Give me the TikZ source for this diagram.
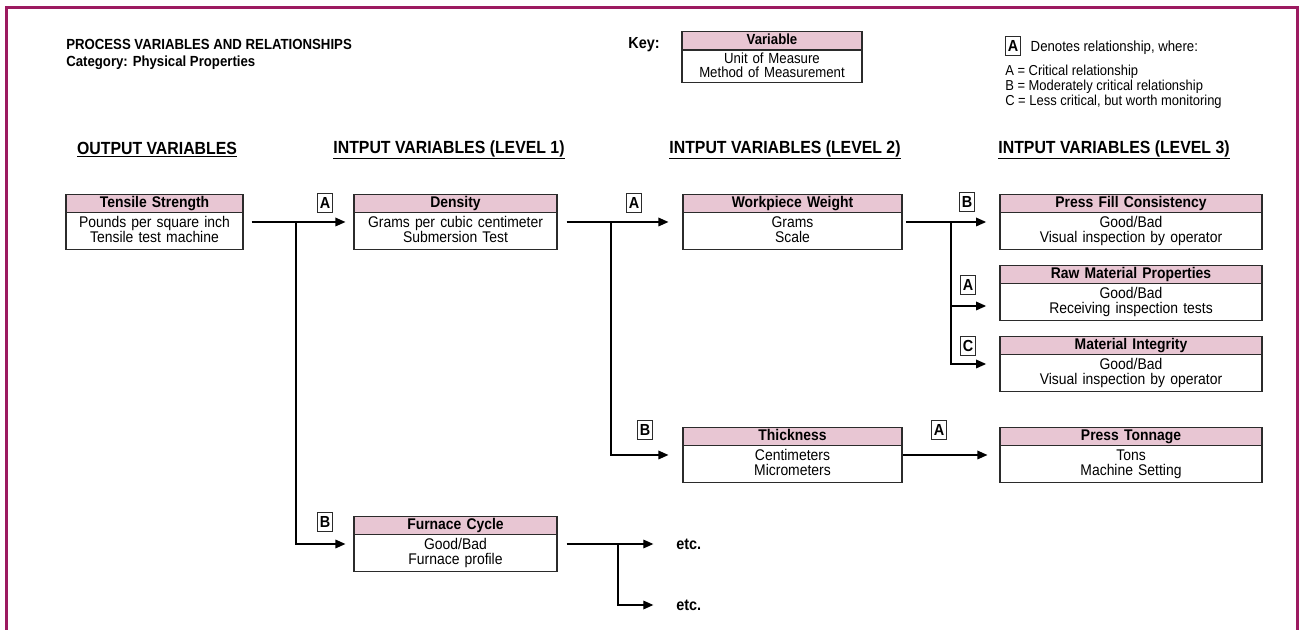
\documentclass[tikz,border=0pt]{standalone}
\usepackage{fontspec}
\setmainfont{Liberation Sans}[FakeStretch=0.9]
\usetikzlibrary{arrows.meta,shapes.multipart}
\definecolor{framemag}{HTML}{9C1A60}
\definecolor{headpink}{HTML}{E8C6D3}
\definecolor{boxline}{HTML}{2B2B2B}
\newcommand{\varhead}[1]{\rule[-3.4pt]{0pt}{12.9pt}\textbf{#1}}
\newcommand{\varbody}[2]{\rule{0pt}{10.4pt}#1\\#2\rule[-5.1pt]{0pt}{5.1pt}}

\begin{document}
\begin{tikzpicture}[x=0.75pt,y=-0.75pt,>={Triangle[length=7.5pt,width=6.5pt]},
  varbox/.style={rectangle split,rectangle split parts=2,draw=boxline,line width=0.9pt,
    rectangle split part fill={headpink,white},inner xsep=0pt,inner ysep=0pt,align=center,
    font=\fontsize{11.6}{11.5}\selectfont},
  rel/.style={draw=boxline,line width=0.7pt,fill=white,inner sep=0pt,minimum width=11pt,
    minimum height=14.5pt,font=\fontsize{12}{12}\selectfont\bfseries},
  colhead/.style={font=\fontsize{13.2}{14}\selectfont\bfseries},
  link/.style={->,line width=0.9pt}]
\useasboundingbox (0,0) rectangle (1299,630);
\draw[framemag,line width=2.25pt] (6,632) -- (6,8) -- (1297,8) -- (1297,632);

\node[anchor=north west,align=left,inner sep=0pt,font=\fontsize{11}{12.75}\selectfont\bfseries] (title) at (66,39)
 {PROCESS VARIABLES AND RELATIONSHIPS\\Category: Physical Properties};
\node[font=\fontsize{12}{12}\selectfont\bfseries] (keylbl) at (644,45) {Key:};
\node[varbox,text width=135pt,font=\fontsize{11}{10.6}\selectfont] (key) at (772,57)
 {\varhead{Variable}\nodepart{two}\rule{0pt}{9.4pt}Unit of Measure\\Method of Measurement\rule[-3.3pt]{0pt}{3.3pt}};
\node[rel] (legA) at (1013,46) {A};
\node[anchor=west,font=\fontsize{11}{12}\selectfont] (legtxt) at (1026,48) {Denotes relationship, where:};
\node[anchor=north west,align=left,inner sep=0pt,font=\fontsize{10.8}{9.9}\selectfont] (leglist) at (1005,65)
 {A = Critical relationship\\B = Moderately critical relationship\\C = Less critical, but worth monitoring};

\node[colhead] (hout) at (157,150) {\underline{OUTPUT VARIABLES}};
\node[colhead] (hin1) at (449,150) {\underline{INTPUT VARIABLES (LEVEL 1)}};
\node[colhead] (hin2) at (785,150) {\underline{INTPUT VARIABLES (LEVEL 2)}};
\node[colhead] (hin3) at (1114,150) {\underline{INTPUT VARIABLES (LEVEL 3)}};

\node[varbox,text width=132.75pt] (tens) at (154.5,222)
 {\varhead{Tensile Strength}\nodepart{two}\varbody{Pounds per square inch}{Tensile test machine}};
\node[varbox,text width=152.25pt] (dens) at (455.5,222)
 {\varhead{Density}\nodepart{two}\varbody{Grams per cubic centimeter}{Submersion Test}};
\node[varbox,text width=152.25pt] (furn) at (455.5,544)
 {\varhead{Furnace Cycle}\nodepart{two}\varbody{Good/Bad}{Furnace profile}};
\node[varbox,text width=164.25pt] (work) at (792.5,222)
 {\varhead{Workpiece Weight}\nodepart{two}\varbody{Grams}{Scale}};
\node[varbox,text width=164.25pt] (thick) at (792.5,455)
 {\varhead{Thickness}\nodepart{two}\varbody{Centimeters}{Micrometers}};
\node[varbox,text width=196.5pt] (fill) at (1131,222)
 {\varhead{Press Fill Consistency}\nodepart{two}\varbody{Good/Bad}{Visual inspection by operator}};
\node[varbox,text width=196.5pt] (raw) at (1131,293)
 {\varhead{Raw Material Properties}\nodepart{two}\varbody{Good/Bad}{Receiving inspection tests}};
\node[varbox,text width=196.5pt] (integ) at (1131,364)
 {\varhead{Material Integrity}\nodepart{two}\varbody{Good/Bad}{Visual inspection by operator}};
\node[varbox,text width=196.5pt] (ton) at (1131,455)
 {\varhead{Press Tonnage}\nodepart{two}\varbody{Tons}{Machine Setting}};
\node[anchor=west,inner sep=0pt,font=\fontsize{12}{12}\selectfont\bfseries] (etc1) at (676,544) {etc.};
\node[anchor=west,inner sep=0pt,font=\fontsize{12}{12}\selectfont\bfseries] (etc2) at (676,605) {etc.};

\coordinate (j1) at (296,222);
\coordinate (j2) at (611,222);
\coordinate (j3) at (951,222);
\coordinate (j4) at (618,544);
\draw[link,shorten <=6pt,shorten >=6pt] (tens.east) -- (dens.west);
\draw[link,shorten >=6pt] (j1) |- (furn.west);
\draw[link,shorten <=6.75pt,shorten >=10.5pt] (dens.east) -- (work.west);
\draw[link,shorten >=10.5pt] (j2) |- (thick.west);
\draw[link,shorten <=2.5pt,shorten >=10pt] (work.east) -- (fill.west);
\draw[link,shorten >=10pt] (j3) |- ([yshift=-9.75pt]raw.west);
\draw[link,shorten >=10pt] (j3) |- (integ.west);
\draw[link,shorten >=9pt] (thick.east) -- (ton.west);
\draw[link,shorten <=6.75pt,shorten >=17pt] (furn.east) -- (etc1.west);
\draw[link,shorten >=17pt] (j4) |- (etc2.west);

\node[rel] (rA1) at (325,203) {A};
\node[rel] (rB1) at (325,522) {B};
\node[rel] (rA2) at (634,203) {A};
\node[rel] (rB2) at (645,430) {B};
\node[rel] (rB3) at (967,202) {B};
\node[rel] (rA3) at (968,285) {A};
\node[rel] (rC3) at (968,346) {C};
\node[rel] (rA4) at (939,430) {A};
\end{tikzpicture}
\end{document}
